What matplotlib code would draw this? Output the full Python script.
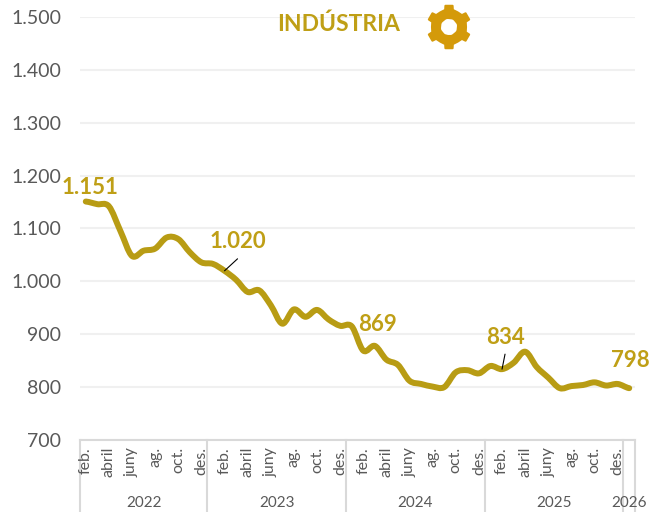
import numpy as np
import matplotlib
matplotlib.use('Agg')
import matplotlib.pyplot as plt
from matplotlib.path import Path
from matplotlib.patches import PathPatch
from matplotlib.transforms import IdentityTransform

plt.rcParams['font.family'] = ['Lato', 'DejaVu Sans']

valors = [1151, 1146, 1142, 1095, 1048, 1058, 1062, 1083, 1080, 1055, 1036,
          1033, 1020, 1003, 980, 983, 955, 920, 947, 933, 946, 928, 916,
          915, 869, 878, 852, 842, 812, 806, 801, 800, 828, 832, 826,
          840, 834, 846, 867, 838, 818, 798, 802, 804, 809, 803, 806,
          798]
mesos = ['feb.', 'abril', 'juny', 'ag.', 'oct.', 'des.']
anys = ['2022', '2023', '2024', '2025', '2026']
anys_centre = [5, 16.5, 28.5, 40.5, 47]
separadors = [-0.5, 10.5, 22.5, 34.5, 46.5, 47.5]
yticks = [700, 800, 900, 1000, 1100, 1200, 1300, 1400, 1500]
etiquetes = [(0, '1.151', 4, 14, None), (12, '1.020', 13, 29, (13, 12)),
             (24, '869', 14, 26, None), (36, '834', 3, 32, (3, 15)),
             (47, '798', 1, 28, None)]

LINIA = '#B89C14'
TEXT = '#BF9F16'
GRIS = '#595959'

W, H = 649, 512
fig = plt.figure(figsize=(W / 100, H / 100), dpi=100)
ax = fig.add_axes([80 / W, 1 - 440 / H, 555 / W, 423 / H])

x = np.arange(len(valors))
y = np.array(valors, dtype=float)

# linia suavitzada com la d'Excel
ext = np.concatenate([[y[0]], y, [y[-1]]])
verts = [(x[0], y[0])]
codes = [Path.MOVETO]
for i in range(len(y) - 1):
    verts.append((x[i] + 1 / 3, y[i] + (ext[i + 2] - ext[i]) / 6))
    verts.append((x[i + 1] - 1 / 3, y[i + 1] - (ext[i + 3] - ext[i + 1]) / 6))
    verts.append((x[i + 1], y[i + 1]))
    codes += [Path.CURVE4] * 3
ax.add_patch(PathPatch(Path(verts, codes), fc='none', ec=LINIA, lw=4.3,
                       capstyle='round', joinstyle='round', zorder=3))

ax.set_xlim(-0.5, 47.5)
ax.set_ylim(700, 1500)
ax.set_yticks(yticks)
ax.set_yticklabels([f'{v:,}'.replace(',', '.') for v in yticks], fontsize=14, color=GRIS)
ax.tick_params(axis='y', length=0, pad=13.5)
ax.set_xticks(x[::2])
ax.set_xticklabels([mesos[i % 6] for i in range(len(x[::2]))], rotation=90,
                   fontsize=11.5, color=GRIS)
ax.tick_params(axis='x', length=0, pad=5)
ax.grid(axis='y', color='#F0F0F0', lw=1.5, zorder=0)
for s in ['top', 'left', 'right']:
    ax.spines[s].set_visible(False)
ax.spines['bottom'].set_color('#D9D9D9')
ax.spines['bottom'].set_linewidth(1.5)

tr = ax.get_xaxis_transform()
for s in separadors:
    ax.plot([s, s], [0, -72 / 423], transform=tr, color='#D9D9D9', lw=1.5,
            clip_on=False, zorder=1)
for a, c in zip(anys, anys_centre):
    ax.text(c, -63 / 423, a, transform=tr, ha='center', va='center',
            fontsize=11, color=GRIS)

for i, txt, dx, dy, guia in etiquetes:
    ax.annotate(txt, (x[i], y[i]), xytext=(dx * 0.72, dy * 0.72),
                textcoords='offset points', ha='center', va='center',
                fontsize=16, fontweight='bold', color=TEXT, zorder=4)
    if guia:
        ax.annotate('', (x[i], y[i]), xytext=(guia[0] * 0.72, guia[1] * 0.72),
                    textcoords='offset points',
                    arrowprops=dict(arrowstyle='-', color='black', lw=0.8,
                                    shrinkA=0, shrinkB=0), zorder=4)

fig.text(338.5 / W, 1 - 24 / H, 'INDÚSTRIA', ha='center', va='center',
         fontsize=16.5, fontweight='bold', color=TEXT)

# engranatge de 6 dents
cx, cy = 449, H - 27
dents = 6
r_ext, r_int, r_forat = 21.5, 17, 9
punts = []
for k in range(dents):
    a = 2 * np.pi * k / dents + np.pi / 2
    m = np.pi / dents
    for da, r in [(-m * 0.98, r_int), (-m * 0.42, r_int + 0.5), (-m * 0.32, r_ext),
                  (m * 0.32, r_ext), (m * 0.42, r_int + 0.5), (m * 0.98, r_int)]:
        punts.append((cx + r * np.cos(a + da), cy + r * np.sin(a + da)))
punts.append(punts[0])
cercle = Path.unit_circle()
forat = Path(cercle.vertices[::-1] * r_forat + [cx, cy], cercle.codes)
engr = Path.make_compound_path(Path(punts, closed=True), forat)
fig.add_artist(PathPatch(engr, fc='#D49A0A', ec='#D49A0A', lw=1.5, joinstyle='round',
                         transform=IdentityTransform()))

fig.savefig('out.png', dpi=100)
